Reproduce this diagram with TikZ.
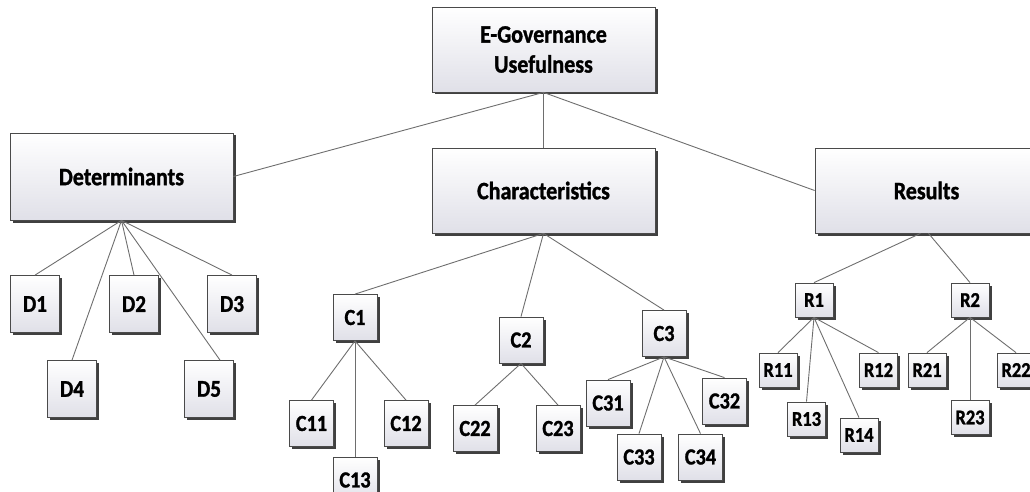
\documentclass[tikz,border=0pt]{standalone}
\usepackage{fontspec}
\setmainfont{Carlito}[FakeStretch=0.88, BoldFeatures={FakeBold=1.2}]
\usetikzlibrary{shadows}
\definecolor{linec}{HTML}{6E6E6E}
\definecolor{boxline}{HTML}{4A4A4A}
\definecolor{boxbot}{HTML}{E0E0E8}
\tikzset{
  box/.style={draw=boxline, line width=0.8pt, top color=white, bottom color=boxbot,
    drop shadow={shadow xshift=2.5pt, shadow yshift=-2.5pt, fill=black!75, opacity=1},
    inner sep=0pt, text=black},
  bigbox/.style={box, minimum width=223pt, minimum height=85pt, align=center,
    font=\bfseries\fontsize{25}{30}\selectfont},
  dbox/.style={box, minimum width=49pt, minimum height=57pt, font=\bfseries\fontsize{24}{28}\selectfont},
  cbox/.style={box, minimum width=44pt, minimum height=46pt, font=\bfseries\fontsize{23}{27}\selectfont},
  rbox/.style={box, minimum width=38pt, minimum height=34pt, font=\bfseries\fontsize{21}{25}\selectfont},
  conn/.style={draw=linec, line width=0.9pt}
}
\begin{document}
\begin{tikzpicture}[x=1pt, y=-1pt]
\useasboundingbox (0,0) rectangle (1030,492);
\clip (0,0) rectangle (1030,492);
% main boxes
\node[bigbox] (top) at (543.5,49.5) {E-Governance\\Usefulness};
\node[bigbox, minimum height=87pt] (det) at (121.5,176.5) {Determinants};
\node[bigbox] (char) at (543.5,190.5) {Characteristics};
\node[bigbox] (res) at (926.5,190.5) {Results};
% determinants
\node[dbox] (D1) at (35,304) {D1};
\node[dbox] (D2) at (134,304) {D2};
\node[dbox] (D3) at (232,304) {D3};
\node[dbox] (D4) at (72,389) {D4};
\node[dbox] (D5) at (209,389) {D5};
% characteristics
\node[cbox] (C1) at (355,317.5) {C1};
\node[cbox] (C11) at (311.5,423.5) {C11};
\node[cbox] (C12) at (406,423.5) {C12};
\node[cbox] (C13) at (355,480) {C13};
\node[cbox] (C2) at (521,340) {C2};
\node[cbox] (C22) at (475,428.5) {C22};
\node[cbox] (C23) at (558,428.5) {C23};
\node[cbox] (C3) at (664,333.5) {C3};
\node[cbox] (C31) at (608,403) {C31};
\node[cbox] (C32) at (724.5,401) {C32};
\node[cbox] (C33) at (639,457) {C33};
\node[cbox] (C34) at (700.5,457) {C34};
% results
\node[rbox] (R1) at (814,300) {R1};
\node[rbox] (R11) at (778,370) {R11};
\node[rbox] (R12) at (878.5,370) {R12};
\node[rbox] (R13) at (806.5,419) {R13};
\node[rbox] (R14) at (859,435) {R14};
\node[rbox] (R2) at (970,300) {R2};
\node[rbox] (R21) at (927,370) {R21};
\node[rbox] (R22) at (1016,370) {R22};
\node[rbox] (R23) at (970,417.5) {R23};
% connectors
\draw[conn] (top.south) -- (det.east);
\draw[conn] (top.south) -- (char.north);
\draw[conn] (top.south) -- (res.west);
\foreach \n in {D1,D2,D3,D4} \draw[conn] (det.south) -- (\n.north);
\draw[conn] (det.south) -- ([xshift=11pt]D5.north);
\foreach \n in {C1,C2,C3} \draw[conn] (char.south) -- (\n.north);
\foreach \n in {C11,C12,C13} \draw[conn] (C1.south) -- (\n.north);
\foreach \n in {C22,C23} \draw[conn] (C2.south) -- (\n.north);
\foreach \n in {C31,C32,C33,C34} \draw[conn] (C3.south) -- (\n.north);
\draw[conn] ([xshift=-6pt]res.south) -- (R1.north);
\draw[conn] ([xshift=2pt]res.south) -- (R2.north);
\foreach \n in {R11,R12,R13,R14} \draw[conn] (R1.south) -- (\n.north);
\foreach \n in {R21,R22,R23} \draw[conn] (R2.south) -- (\n.north);
\end{tikzpicture}
\end{document}
